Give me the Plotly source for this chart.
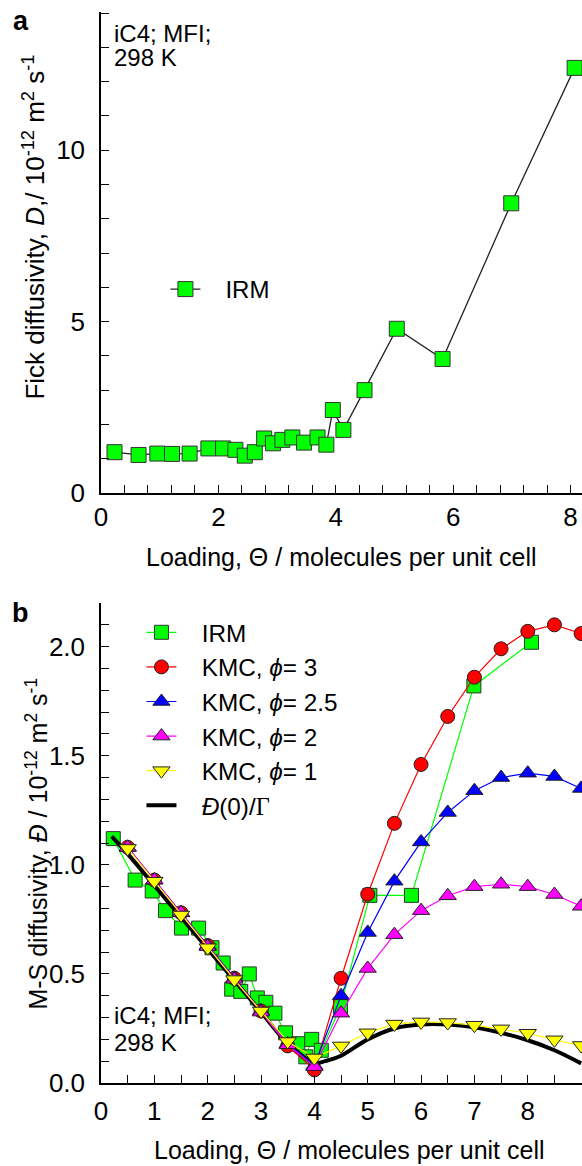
import plotly.graph_objects as go

# ---------------- data ----------------
irm_x = [0.23, 0.64, 0.96, 1.21, 1.51, 1.83, 2.08, 2.29, 2.45, 2.62, 2.78, 2.93,
         3.09, 3.26, 3.46, 3.69, 3.84, 3.95, 4.13, 4.49, 5.04, 5.82, 6.99, 8.07]
irm_fick = [1.19, 1.11, 1.15, 1.14, 1.15, 1.30, 1.30, 1.26, 1.09, 1.19, 1.59, 1.45,
            1.55, 1.62, 1.47, 1.62, 1.41, 2.42, 1.84, 3.00, 4.79, 3.91, 8.45, 12.40]
irm_ms = [1.12, 0.93, 0.88, 0.79, 0.71, 0.71, 0.62, 0.55, 0.43, 0.42, 0.50, 0.39,
          0.37, 0.32, 0.23, 0.18, 0.12, 0.20, 0.15, 0.35, 0.86, 0.86, 1.82, 2.02]

kmc_x = [0.5, 1.0, 1.5, 2.0, 2.5, 3.0, 3.5, 4.0, 4.5, 5.0, 5.5, 6.0, 6.5, 7.0, 7.5, 8.0, 8.5, 9.0]
kmc_phi3 = [1.08, 0.93, 0.78, 0.63, 0.48, 0.33, 0.17, 0.06, 0.48, 0.865, 1.19, 1.46, 1.68, 1.86, 1.99, 2.07, 2.10, 2.06]
kmc_phi25 = [1.08, 0.93, 0.78, 0.63, 0.48, 0.33, 0.18, 0.08, 0.40, 0.69, 0.925, 1.105, 1.24, 1.34, 1.40, 1.42, 1.405, 1.35]
kmc_phi2 = [1.08, 0.93, 0.78, 0.625, 0.475, 0.325, 0.175, 0.075, 0.32, 0.525, 0.68, 0.79, 0.858, 0.90, 0.911, 0.90, 0.864, 0.81]
kmc_phi1 = [1.075, 0.925, 0.77, 0.62, 0.474, 0.33, 0.19, 0.115, 0.17, 0.23, 0.27, 0.28, 0.277, 0.265, 0.248, 0.228, 0.198, 0.172]

d0g_x = [0.2, 0.5, 1.0, 1.5, 2.0, 2.5, 3.0, 3.5, 3.8, 4.0, 4.2, 4.5, 5.0, 5.5, 6.0, 6.5, 7.0, 7.5, 8.0, 8.5, 9.0]
d0g_y = [1.13, 1.05, 0.905, 0.76, 0.615, 0.47, 0.325, 0.18, 0.12, 0.09, 0.10, 0.125, 0.20, 0.25, 0.268, 0.268, 0.255, 0.23, 0.196, 0.15, 0.09]

x_title = "Loading, Θ / molecules per unit cell"
y_title_a = "Fick diffusivity, <i>D</i>,/ 10<sup>-12</sup> m<sup>2</sup> s<sup>-1</sup>"
y_title_b = "M-S diffusivity, <i>Đ</i> / 10<sup>-12</sup> m<sup>2</sup> s<sup>-1</sup>"

FONT = "Liberation Sans, Arial, sans-serif"
W, H = 582, 1166
ML, MR, MT, MB = 100.5, 0, 12, 83
PH = H - MT - MB
NB = "\u00a0\u00a0\u00a0"

def py(px):
    return (H - MB - px) / PH

def pxx(px):
    return (px - ML) / (W - ML - MR)

fig = go.Figure()

# top panel
fig.add_trace(go.Scatter(
    x=irm_x, y=irm_fick, mode="lines+markers", name=NB + "IRM",
    line=dict(color="#222222", width=1.3),
    marker=dict(symbol="square", size=15, color="#00ff00", line=dict(color="#333333", width=1)),
    xaxis="x", yaxis="y", legend="legend2", cliponaxis=False))

# bottom panel
fig.add_trace(go.Scatter(
    x=irm_x, y=irm_ms, mode="lines+markers", name=NB + "IRM",
    line=dict(color="#00ff00", width=1.2),
    marker=dict(symbol="square", size=14, color="#00ff00", line=dict(color="#333333", width=1)),
    xaxis="x2", yaxis="y2", legend="legend", legendrank=1))
fig.add_trace(go.Scatter(
    x=d0g_x, y=d0g_y, mode="lines",
    name=NB + "<i>Đ</i>(0)/<span style='font-family:Liberation Serif'>Γ</span>",
    line=dict(color="black", width=4, shape="spline"),
    xaxis="x2", yaxis="y2", legend="legend", legendrank=6))
series = [
    ("KMC, <i>ϕ</i>= 3", kmc_phi3, "#ff0000", "circle", 14, 2),
    ("KMC, <i>ϕ</i>= 2.5", kmc_phi25, "#0000ff", "triangle-up", 15, 3),
    ("KMC, <i>ϕ</i>= 2", kmc_phi2, "#ff00ff", "triangle-up", 15, 4),
    ("KMC, <i>ϕ</i>= 1", kmc_phi1, "#ffff00", "triangle-down", 15, 5),
]
for name, ys, col, sym, sz, rk in series:
    fig.add_trace(go.Scatter(
        x=kmc_x, y=ys, mode="lines+markers", name=NB + name,
        line=dict(color=col, width=1.2),
        marker=dict(symbol=sym, size=sz, color=col, line=dict(color="#222222", width=1)),
        xaxis="x2", yaxis="y2", legend="legend", legendrank=rk))

axis_common = dict(
    showline=True, linecolor="black", linewidth=1.5, ticks="inside", ticklen=8,
    tickwidth=1.3, tickcolor="black", showgrid=False, zeroline=False,
    tickfont=dict(family=FONT, size=26, color="black"), mirror=False,
)
minor_common = dict(ticks="inside", ticklen=8, tickwidth=1.3, tickcolor="black")

top_dom = [py(493), 1.0]
bot_dom = [0.0, py(603)]

fig.update_layout(
    width=W, height=H,
    margin=dict(l=ML, r=MR, t=MT, b=MB),
    paper_bgcolor="white", plot_bgcolor="white",
    font=dict(family=FONT, size=24, color="black"),
    xaxis=dict(axis_common, domain=[0, 1], anchor="y", range=[0, (W - ML) / 58.75],
               tickmode="linear", tick0=0, dtick=2,
               minor=dict(minor_common, dtick=0.4)),
    yaxis=dict(axis_common, domain=top_dom, anchor="x", range=[0, 14.03],
               tickmode="linear", tick0=0, dtick=5, ticklabelstandoff=9,
               minor=dict(minor_common, dtick=1)),
    xaxis2=dict(axis_common, domain=[0, 1], anchor="y2", range=[0, (W - ML) / 53.4],
                tickmode="linear", tick0=0, dtick=1, ticklabelstandoff=4,
                minor=dict(minor_common, dtick=0.5)),
    yaxis2=dict(axis_common, domain=bot_dom, anchor="x2", range=[0, 2.2],
                tickmode="linear", tick0=0, dtick=0.5, tickformat=".1f", ticklabelstandoff=9,
                minor=dict(minor_common, dtick=0.1)),
    legend=dict(x=pxx(141), y=py(610), xanchor="left", yanchor="top",
                bgcolor="rgba(0,0,0,0)", font=dict(family=FONT, size=24.3),
                traceorder="normal"),
    legend2=dict(x=pxx(165), y=py(267), xanchor="left", yanchor="top",
                 bgcolor="rgba(0,0,0,0)", font=dict(family=FONT, size=24)),
    showlegend=True,
)

# axis titles
fig.add_annotation(xref="paper", yref="paper", x=pxx(341), y=py(557), text=x_title,
                   showarrow=False, xanchor="center", yanchor="middle",
                   font=dict(family=FONT, size=25, color="black"))
fig.add_annotation(xref="paper", yref="paper", x=pxx(349), y=py(1150), text=x_title,
                   showarrow=False, xanchor="center", yanchor="middle",
                   font=dict(family=FONT, size=25, color="black"))
fig.add_annotation(xref="paper", yref="paper", x=pxx(34), y=py(227), text=y_title_a,
                   textangle=-90, showarrow=False, xanchor="center", yanchor="middle",
                   font=dict(family=FONT, size=26, color="black"))
fig.add_annotation(xref="paper", yref="paper", x=pxx(36), y=py(844), text=y_title_b,
                   textangle=-90, showarrow=False, xanchor="center", yanchor="middle",
                   font=dict(family=FONT, size=25, color="black"))

# panel labels
for txt, xp, yp in [("<b>a</b>", 20, 21), ("<b>b</b>", 20, 613)]:
    fig.add_annotation(xref="paper", yref="paper", x=pxx(xp), y=py(yp), text=txt,
                       showarrow=False, xanchor="center", yanchor="middle",
                       font=dict(family=FONT, size=27, color="black"))
# condition notes
for txt, ypx in [("iC4; MFI;", 33), ("298 K", 58), ("iC4; MFI;", 1015), ("298 K", 1042)]:
    fig.add_annotation(xref="paper", yref="paper", x=pxx(112), y=py(ypx), text=txt,
                       showarrow=False, xanchor="left", yanchor="middle",
                       font=dict(family=FONT, size=24, color="black"))

fig.write_html("out.html")
